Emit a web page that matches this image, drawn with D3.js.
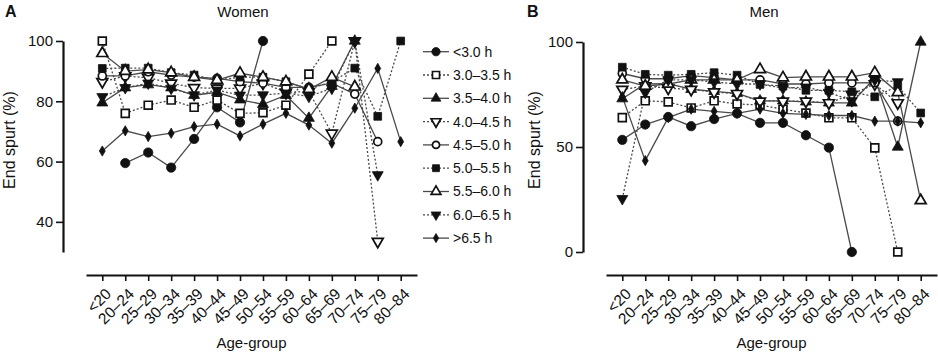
<!DOCTYPE html>
<html>
<head>
<meta charset="utf-8">
<script src="https://cdn.jsdelivr.net/npm/d3@7"></script>
<style>
body { margin: 0; background: #fff; }
text { font-family: "Liberation Sans", Arial, sans-serif; fill: #111; }
</style>
</head>
<body>
<svg id="mainSVG" width="938" height="360"></svg>
<script>

// categories
var ageGroups = ["<20", "20–24", "25–29", "30–34", "35–39", "40–44", "45–49",
                 "50–54", "55–59", "60–64", "65–69", "70–74", "75–79", "80–84"];
var seriesNames = ["<3.0 h", "3.0–3.5 h", "3.5–4.0 h", "4.0–4.5 h", "4.5–5.0 h",
                   "5.0–5.5 h", "5.5–6.0 h", "6.0–6.5 h", ">6.5 h"];

// Women, end spurt (%) per age group (null = no data)
var womenLt30   = [null, 59.5, 63, 58, 67.5, 78, 73, 100, null, null, null, null, null, null];
var women30_35  = [100, 76, 78.7, 80.4, 78, 80.4, 76, 76.2, 78.7, 89, 100, null, null, null];
var women35_40  = [79.5, 84.5, 85.5, 84.5, 82, 83, 80.5, 79, 82, 74.4, 85, 100, null, null];
var women40_45  = [86.5, 88.4, 87.8, 86, 84.5, 84.3, 84.3, 86, 83, 83.2, 69.4, 100, 33.5, null];
var women45_50  = [88.4, 88.4, 89.8, 88.7, 88, 87.6, 86.5, 86, 84.6, 84.6, 86, 82.4, 66.6, null];
var women50_55  = [90.9, 91, 91, 89.5, 88.7, 87, 88, 88, 86.5, 84, 86.5, 91, 75, 100];
var women55_60  = [95.9, 90, 90.5, 89.5, 88, 87, 89.3, 88, 86.5, 84, 88, 84.8, null, null];
var women60_65  = [81.5, 84.5, 86, 84.3, 82.1, 83.7, 82, 82.1, 82.7, 81.6, 84.3, 100, 55.6, null];
var womenGt65   = [63.5, 70.2, 68.3, 69.4, 71.6, 72.4, 68.5, 72.4, 76, 72.1, 66.1, 77.7, 90.9, 66.6];

// Men
var menLt30   = [53.4, 60.7, 64.3, 59.9, 63.3, 66, 61.5, 61.5, 55.6, 49.7, 0, null, null, null];
var men30_35  = [64, 72, 71.5, 68.6, 72, 70.5, 70, 68, 66.2, 63.9, 63.9, 49.6, 0, null];
var men35_40  = [73, 80, 80.2, 77.5, 76.5, 75.5, 72, 72, 71.5, 71, 71, 83, 50, 100];
var men40_45  = [77.4, 79, 78, 77.4, 76.2, 75.4, 71.8, 71.8, 71.8, 71, 75, 80, 71, null];
var men45_50  = [85, 82.5, 82.5, 84, 83, 82, 82, 80, 80, 80.5, 80.5, 80.6, 62.3, null];
var men50_55  = [88, 84.6, 84.2, 84.6, 85.4, 84.2, 79.8, 79, 77, 77, 76.3, 73.9, 79, 66.2];
var men55_60  = [82, 79, 80, 82, 82, 82, 86.9, 83, 83.4, 83.4, 83.4, 85.4, 76, 24.5];
var men60_65  = [25.4, 76, 82, 82, 81, 80, 80, 78, 78.5, 76, 72, 82, 81, null];
var menGt65   = [74, 43.5, 64, 68, 67, 66, 68, 66, 65.5, 65, 65, 62.3, 62.3, 61.5];

var womenTicks = [40, 60, 80, 100];
var menTicks = [0, 50, 100];

var womenData = [womenLt30, women30_35, women35_40, women40_45, women45_50,
                 women50_55, women55_60, women60_65, womenGt65];
var menData = [menLt30, men30_35, men35_40, men40_45, men45_50,
               men50_55, men55_60, men60_65, menGt65];

// marker style per series (symbol, filled?, size, rotation, dotted line?)
var markerStyle = [
  {sym: d3.symbolCircle,   fill: true,  size: 68, rot: 0,   dotted: false},
  {sym: d3.symbolSquare,   fill: false, size: 62, rot: 0,   dotted: true},
  {sym: d3.symbolTriangle, fill: true,  size: 52, rot: 0,   dotted: false},
  {sym: d3.symbolTriangle, fill: false, size: 52, rot: 180, dotted: true},
  {sym: d3.symbolCircle,   fill: false, size: 50, rot: 0,   dotted: false},
  {sym: d3.symbolSquare,   fill: true,  size: 60, rot: 0,   dotted: true},
  {sym: d3.symbolTriangle, fill: false, size: 52, rot: 0,   dotted: false},
  {sym: d3.symbolTriangle, fill: true,  size: 52, rot: 180, dotted: true},
  {sym: d3.symbolDiamond,  fill: true,  size: 30, rot: 0,   dotted: false}
];

var svg = d3.select("#mainSVG");

function drawMarker(g, i, x, y, scale) {
  var st = markerStyle[i];
  g.append("path")
    .attr("d", d3.symbol().type(st.sym).size(st.size * (scale || 1))())
    .attr("transform", "translate(" + x + "," + y + ") rotate(" + st.rot + ")")
    .attr("fill", st.fill ? "#111" : "#fff")
    .attr("stroke", "#111")
    .attr("stroke-width", st.fill ? 0.8 : 1.7);
}

function drawPanel(opt) {

  var g = svg.append("g");

  var x = d3.scalePoint()
    .domain(ageGroups)
    .range([opt.axisX0, opt.axisX1])
    .padding(0.71);

  var y = d3.scaleLinear()
    .domain(opt.yDomain)
    .range([252, opt.yTop]);

  // panel letter + title
  g.append("text")
    .attr("x", opt.letterX)
    .attr("y", 17)
    .attr("font-size", "16")
    .attr("font-weight", "bold")
    .text(opt.letter);

  g.append("text")
    .attr("x", opt.titleX)
    .attr("y", 17)
    .attr("font-size", "15")
    .attr("text-anchor", "middle")
    .text(opt.title);

  // y axis
  var yAxis = g.append("g")
    .attr("transform", "translate(" + opt.yAxisX + ",0)")
    .call(d3.axisLeft(y).tickValues(opt.ticks).tickSize(7).tickSizeOuter(0).tickPadding(3));
  yAxis.select(".domain").attr("stroke", "#111").attr("stroke-width", 2.2);
  yAxis.selectAll(".tick line").attr("stroke", "#111").attr("stroke-width", 1.6);
  yAxis.selectAll(".tick text")
    .attr("font-size", "15")
    .attr("font-family", "Liberation Sans, Arial, sans-serif")
    .attr("fill", "#111");

  g.append("text")
    .attr("transform", "translate(" + opt.yLabelX + ",140) rotate(-90)")
    .attr("font-size", "16")
    .attr("text-anchor", "middle")
    .text("End spurt (%)");

  // x axis (detached, below plot)
  var xAxis = g.append("g")
    .attr("transform", "translate(0,275)")
    .call(d3.axisBottom(x).tickSize(6).tickSizeOuter(0).tickFormat(""));
  xAxis.select(".domain").attr("stroke", "#111").attr("stroke-width", 2.2);
  xAxis.selectAll(".tick line").attr("stroke", "#111").attr("stroke-width", 1.6);

  g.selectAll(".xlab")
    .data(ageGroups)
    .enter().append("text")
    .attr("class", "xlab")
    .attr("transform", function(d) { return "translate(" + (x(d) + 6) + ",291) rotate(-45)"; })
    .attr("text-anchor", "end")
    .attr("dy", "0.35em")
    .attr("font-size", "15.5")
    .text(function(d) { return d; });

  g.append("text")
    .attr("x", (opt.axisX0 + opt.axisX1) / 2)
    .attr("y", 348)
    .attr("font-size", "15")
    .attr("text-anchor", "middle")
    .text("Age-group");

  // lines first, then markers on top
  var line = d3.line()
    .defined(function(d) { return d != null; })
    .x(function(d, i) { return x(ageGroups[i]); })
    .y(function(d) { return y(d); });

  opt.data.forEach(function(vals, s) {
    g.append("path")
      .attr("d", line(vals))
      .attr("fill", "none")
      .attr("stroke", "#4a4a4a")
      .attr("stroke-width", 1.3)
      .attr("stroke-dasharray", markerStyle[s].dotted ? "2,2" : null);
  });

  opt.data.forEach(function(vals, s) {
    vals.forEach(function(v, i) {
      if (v == null) return;
      drawMarker(g, s, x(ageGroups[i]), y(v));
    });
  });
}

drawPanel({letter: "A", letterX: 5, title: "Women", titleX: 243,
           yDomain: [30, 100], yTop: 41, ticks: womenTicks, yAxisX: 63, yLabelX: 15,
           axisX0: 86, axisX1: 417, data: womenData});

drawPanel({letter: "B", letterX: 527, title: "Men", titleX: 764,
           yDomain: [0, 100], yTop: 42, ticks: menTicks, yAxisX: 583, yLabelX: 540,
           axisX0: 606, axisX1: 937, data: menData});

// legend between the panels
var legend = svg.append("g");
seriesNames.forEach(function(name, i) {
  var ly = 51.7 + i * 23.3;
  legend.append("line")
    .attr("x1", 423).attr("x2", 449)
    .attr("y1", ly).attr("y2", ly)
    .attr("stroke", "#4a4a4a")
    .attr("stroke-width", 1.3)
    .attr("stroke-dasharray", markerStyle[i].dotted ? "2,2" : null);
  drawMarker(legend, i, 436, ly, 0.8);
  legend.append("text")
    .attr("x", 453)
    .attr("y", ly)
    .attr("dy", "0.35em")
    .attr("font-size", "14")
    .text(name);
});

</script>
</body>
</html>
